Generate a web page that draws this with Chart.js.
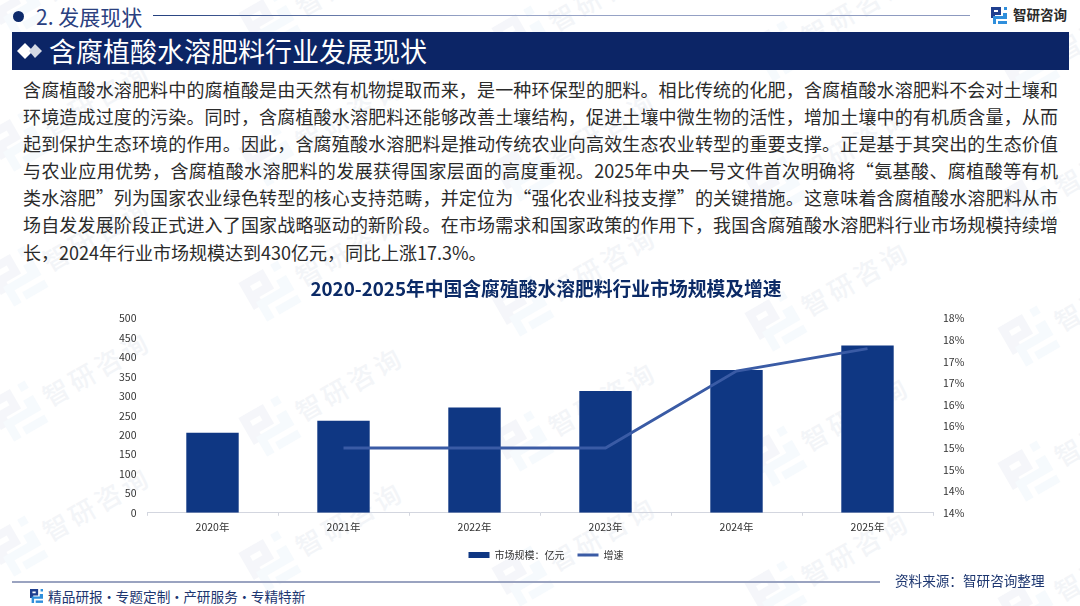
<!DOCTYPE html>
<html lang="zh">
<head>
<meta charset="utf-8">
<title>含腐植酸水溶肥料行业发展现状</title>
<script src="https://cdn.jsdelivr.net/npm/chart.js@4"></script>
<style>
    html, body { margin: 0; padding: 0; background: #fff; }
    body { width: 1080px; height: 606px; position: relative; overflow: hidden; font-family: "Noto Sans CJK SC", "Noto Sans", sans-serif; }
    .abs { position: absolute; white-space: nowrap; }
    .mark { position: absolute; transform: rotate(-30deg); transform-origin: left center; display: flex; align-items: center; gap: 8px; color: #f3f5f8; font-size: 26px; font-weight: 500; letter-spacing: 4px; white-space: nowrap; }
    .band { left: 12px; top: 32px; width: 1057px; height: 38px; background: #0c2566; }
    .band-title { left: 49px; top: 32px; height: 38px; line-height: 37px; font-size: 27px; color: #fff; }
    .para { position: absolute; left: 23px; top: 76px; width: 1035px; font-size: 18px; line-height: 27.1px; color: #2b2b2b; }
    .para div { text-align: justify; text-align-last: justify; white-space: nowrap; }
    .para div:last-child { text-align-last: left; }
    #chartBox { position: absolute; left: 115px; top: 275px; width: 862px; height: 299px; }
</style>
</head>
<body>
<div id="marks"></div>

<div class="abs" style="left:13px;top:11px;width:11px;height:11px;border-radius:50%;background:#0d2a6b"></div>
<div class="abs" style="left:36px;top:2px;font-size:21px;line-height:28px;color:#2a4080">2. 发展现状</div>
<div class="abs" style="left:153px;top:15px;width:817px;height:1px;background:linear-gradient(90deg,#24407f,#9aa6c8 40%,#8c99bf)"></div>
<svg class="abs" style="left:991px;top:7px" width="16" height="17" viewBox="0 0 16 17"><use href="#logo"/></svg>
<div class="abs" style="left:1013px;top:5px;font-size:13.5px;line-height:19px;font-weight:700;color:#2a2a2a">智研咨询</div>

<div class="abs band"></div>
<svg class="abs" style="left:17px;top:42px" width="26" height="18" viewBox="0 0 26 18">
    <path d="M8 1 L16 9 L8 17 L0 9 Z" fill="#fff"/>
    <path d="M18 2 L25 9 L18 16 L12 9 Z" fill="#d5d9e4"/>
</svg>
<div class="abs band-title">含腐植酸水溶肥料行业发展现状</div>

<div class="para">
    <div>含腐植酸水溶肥料中的腐植酸是由天然有机物提取而来，是一种环保型的肥料。相比传统的化肥，含腐植酸水溶肥料不会对土壤和</div>
    <div>环境造成过度的污染。同时，含腐植酸水溶肥料还能够改善土壤结构，促进土壤中微生物的活性，增加土壤中的有机质含量，从而</div>
    <div>起到保护生态环境的作用。因此，含腐殖酸水溶肥料是推动传统农业向高效生态农业转型的重要支撑。正是基于其突出的生态价值</div>
    <div>与农业应用优势，含腐植酸水溶肥料的发展获得国家层面的高度重视。2025年中央一号文件首次明确将“氨基酸、腐植酸等有机</div>
    <div>类水溶肥”列为国家农业绿色转型的核心支持范畴，并定位为“强化农业科技支撑”的关键措施。这意味着含腐植酸水溶肥料从市</div>
    <div>场自发发展阶段正式进入了国家战略驱动的新阶段。在市场需求和国家政策的作用下，我国含腐殖酸水溶肥料行业市场规模持续增</div>
    <div>长，2024年行业市场规模达到430亿元，同比上涨17.3%。</div>
</div>

<div id="chartBox"><canvas id="marketChart" width="862" height="299"></canvas></div>

<div class="abs" style="left:12px;top:581px;width:868px;height:1.5px;background:#9aa3c0"></div>
<svg class="abs" style="left:30px;top:589px" width="13" height="14" viewBox="0 0 16 17"><use href="#logo"/></svg>
<div class="abs" style="left:48px;top:586px;font-size:13.7px;line-height:20px;word-spacing:-3.5px;color:#1d3670">精品研报 · 专题定制 · 产研服务 · 专精特新</div>
<div class="abs" style="left:895px;top:570px;font-size:13.6px;line-height:20px;color:#1d3670">资料来源：智研咨询整理</div>

<svg width="0" height="0" style="position:absolute">
    <defs>
        <g id="logo">
            <path d="M0 0 H10 V8 H4 V11 H0 Z M3 3 V5 H7 V3 Z" fill="#1f3f8f" fill-rule="evenodd"/>
            <path d="M13 0 H16 V3 H13 Z M12 6 H16 V12 H5 V17 H2 V9 H12 Z" fill="#2f8fdc"/>
            <path d="M7 14 H16 V17 H7 Z" fill="#2f8fdc"/>
        </g>
    </defs>
</svg>

<script>
'use strict';

// Chart data
const categories = ['2020年', '2021年', '2022年', '2023年', '2024年', '2025年'];
const marketSize = [206, 237, 271, 313, 367, 430];
const growthRate = [null, 15.0, 15.0, 15.0, 16.78, 17.3];
const seriesNames = ['市场规模：亿元', '增速'];
const chartTitle = '2020-2025年中国含腐殖酸水溶肥料行业市场规模及增速';

const BAR_COLOR = '#0f3783';
const LINE_COLOR = '#3a5ba5';
const TICK_COLOR = '#333';
const AXIS_COLOR = '#d3d6df';
const CJK_FONT = '"Noto Sans CJK SC", sans-serif';

// Faint watermark repeated over the page
function drawMarks() {
    const box = document.getElementById('marks');
    for (let col = 0; col < 5; col++) {
        for (let row = -2; row < 3; row++) {
            const el = document.createElement('div');
            el.className = 'mark';
            el.style.left = (-3 + 253 * col) + 'px';
            el.style.top = (265 + 15 * col + 135 * row) + 'px';
            el.innerHTML = '<svg width="46" height="48" viewBox="0 0 16 17" style="opacity:.04"><use href="#logo"/></svg><span>智研咨询</span>';
            box.appendChild(el);
        }
    }
}

// Initialize chart
function initChart() {
    const ctx = document.getElementById('marketChart').getContext('2d');
    new Chart(ctx, {
        data: {
            labels: categories,
            datasets: [{
                type: 'bar',
                label: seriesNames[0],
                data: marketSize,
                backgroundColor: BAR_COLOR,
                barPercentage: 0.4,
                categoryPercentage: 1,
                yAxisID: 'y',
                order: 2
            }, {
                type: 'line',
                label: seriesNames[1],
                data: growthRate,
                borderColor: LINE_COLOR,
                backgroundColor: LINE_COLOR,
                borderWidth: 3,
                pointRadius: 0,
                tension: 0,
                yAxisID: 'y1',
                order: 1
            }]
        },
        options: {
            responsive: false,
            animation: false,
            layout: { padding: { top: 0, bottom: 4, left: 0, right: 0 } },
            scales: {
                x: {
                    offset: true,
                    grid: { drawOnChartArea: false, drawTicks: true, tickLength: 3, color: AXIS_COLOR },
                    border: { color: AXIS_COLOR },
                    ticks: { color: TICK_COLOR, font: { size: 10.5, family: CJK_FONT }, padding: 5, maxRotation: 0 },
                    afterFit(scale) { scale.height = 24.2; }
                },
                y: {
                    position: 'left',
                    min: 0,
                    max: 500,
                    grid: { display: false },
                    border: { display: false },
                    ticks: { stepSize: 50, color: TICK_COLOR, font: { size: 10.5, family: CJK_FONT }, padding: 2.5 },
                    afterFit(scale) { scale.width = 32; }
                },
                y1: {
                    position: 'right',
                    min: 13.5,
                    max: 18,
                    grid: { display: false },
                    border: { display: false },
                    ticks: {
                        stepSize: 0.5,
                        color: TICK_COLOR,
                        font: { size: 10.5, family: CJK_FONT },
                        padding: 2,
                        callback: v => v.toFixed(0) + '%'
                    },
                    afterFit(scale) { scale.width = 44; }
                }
            },
            plugins: {
                title: {
                    display: true,
                    text: chartTitle,
                    color: '#0b2a66',
                    font: { size: 18.8, weight: 'bold', family: CJK_FONT },
                    padding: { top: 3, bottom: 17.8 }
                },
                legend: {
                    position: 'bottom',
                    labels: {
                        color: '#333',
                        font: { size: 10, family: CJK_FONT },
                        usePointStyle: true,
                        pointStyleWidth: 21,
                        boxHeight: 6,
                        padding: 13,
                        sort: (a, b) => a.datasetIndex - b.datasetIndex,
                        generateLabels(chart) {
                            const items = Chart.defaults.plugins.legend.labels.generateLabels(chart);
                            items.forEach(item => {
                                item.pointStyle = item.datasetIndex === 0 ? 'rect' : 'line';
                            });
                            return items;
                        }
                    }
                },
                tooltip: { enabled: false }
            }
        }
    });
}

drawMarks();
initChart();
</script>
</body>
</html>
